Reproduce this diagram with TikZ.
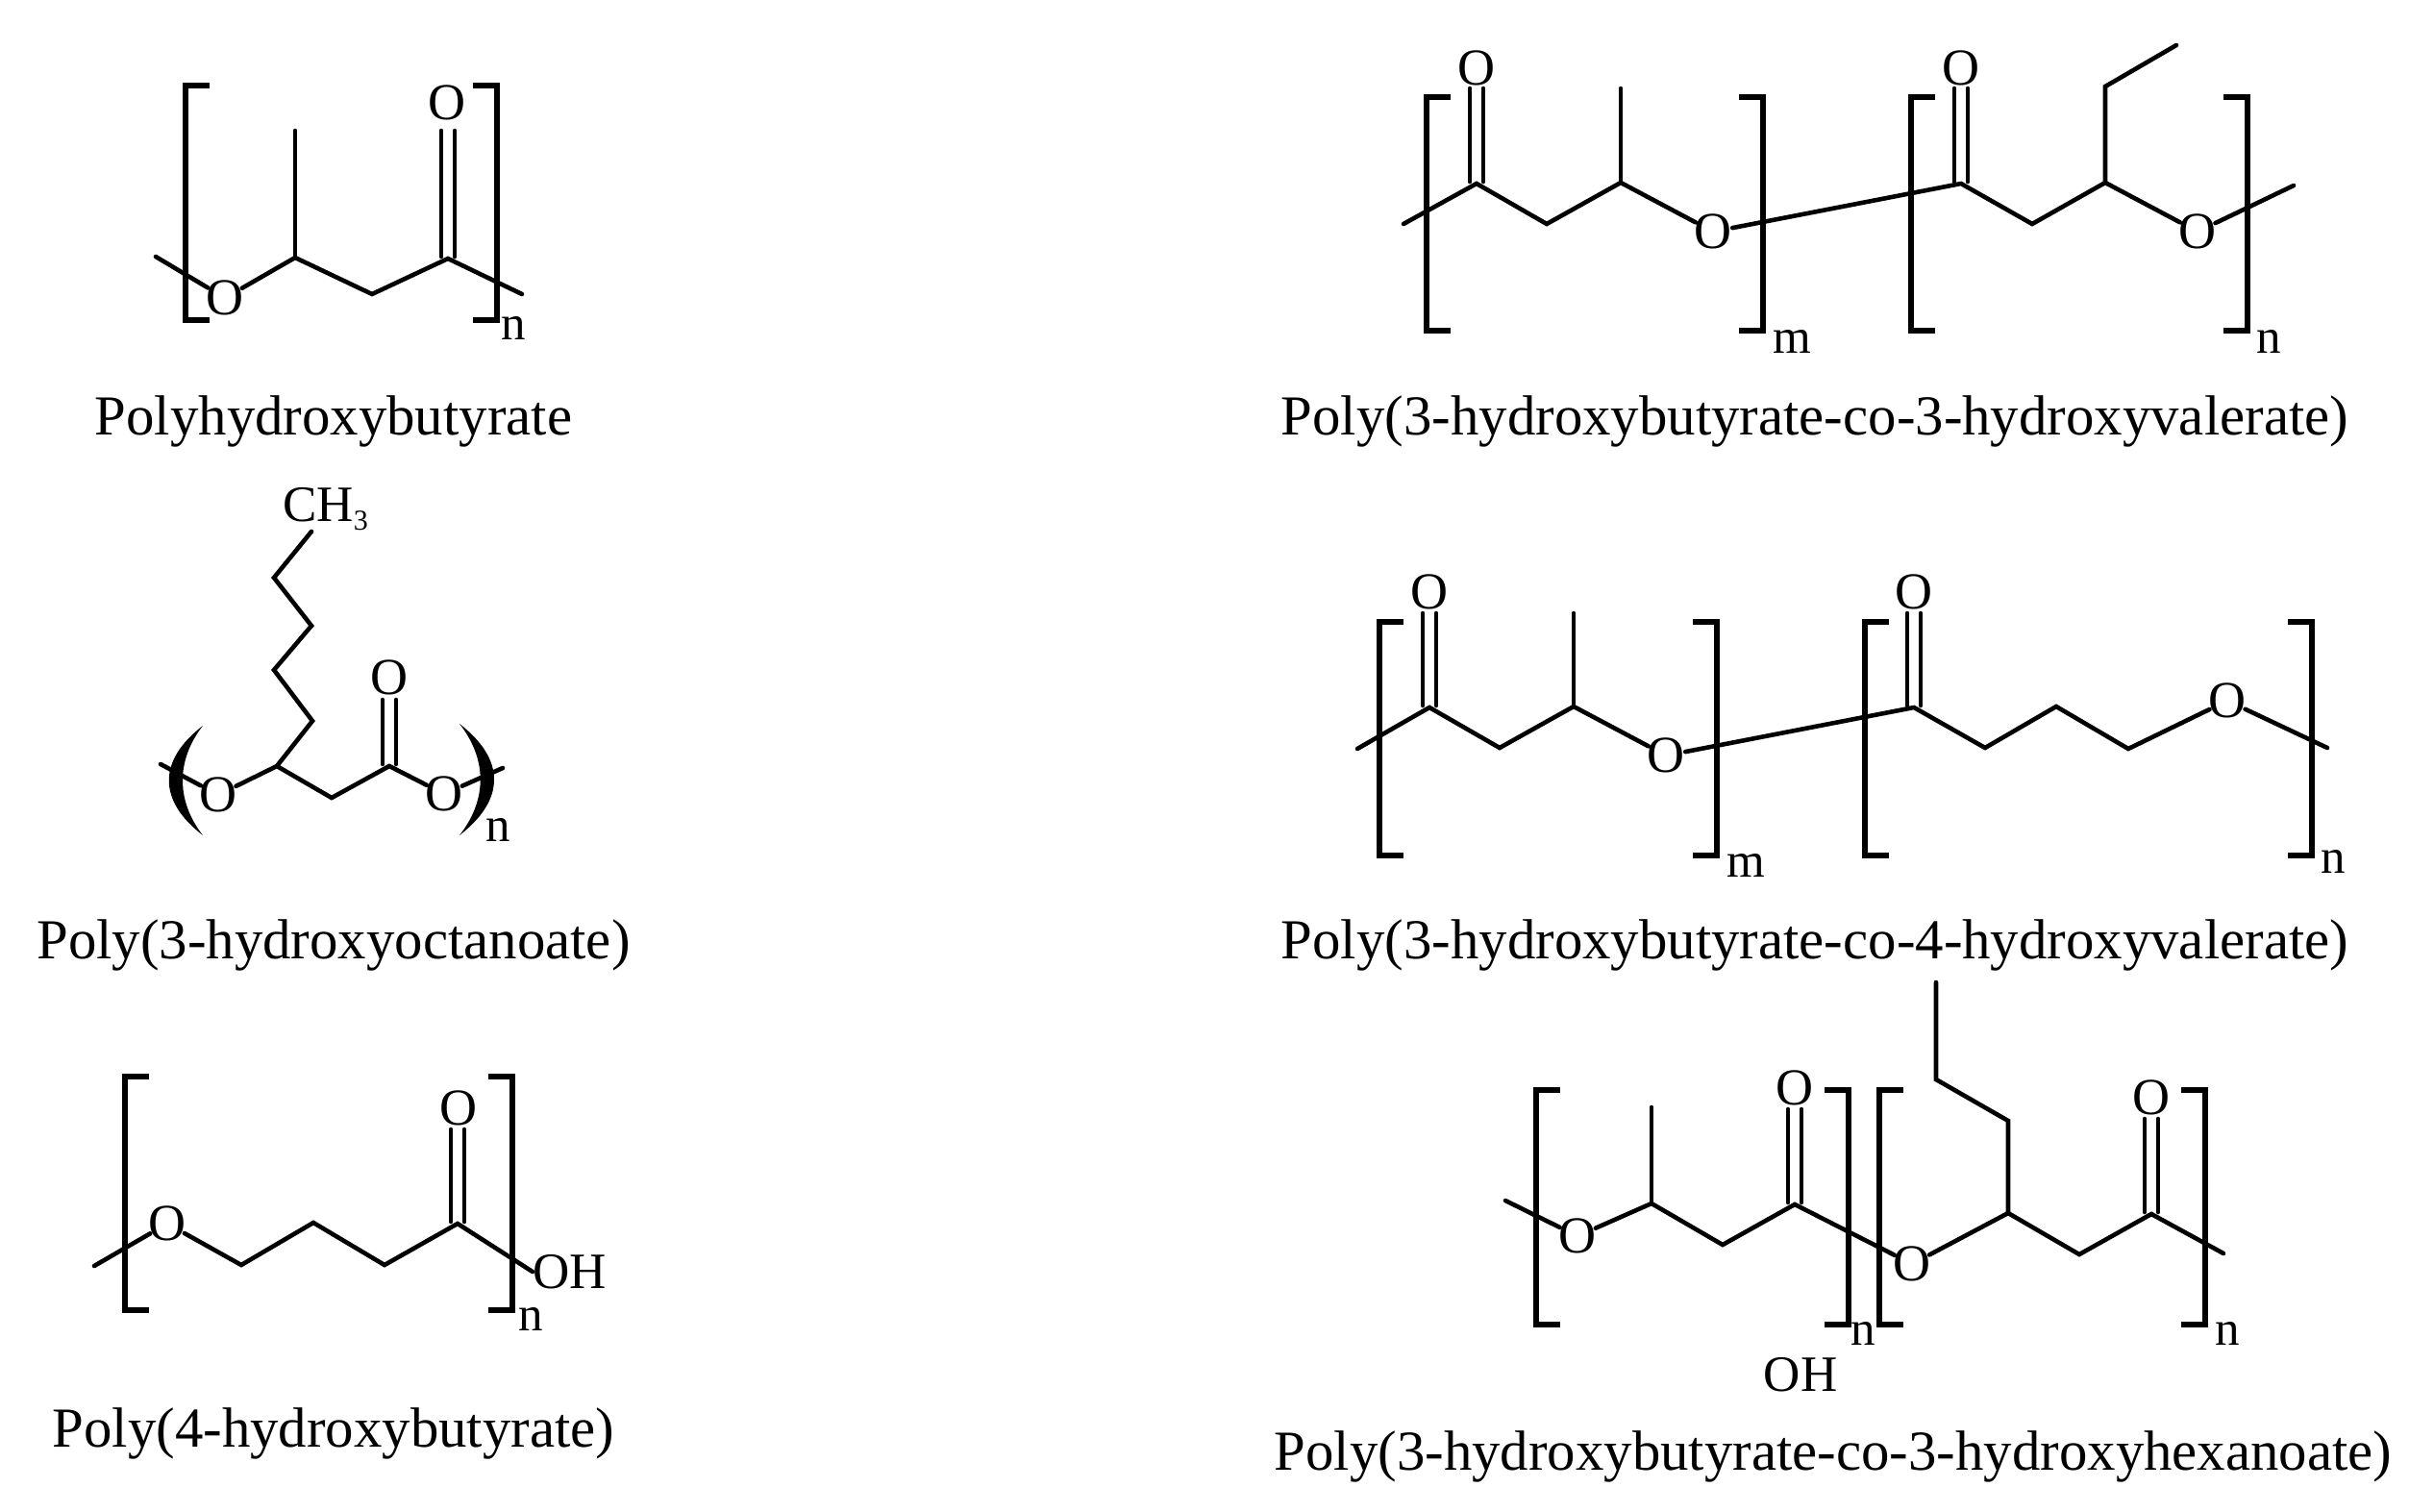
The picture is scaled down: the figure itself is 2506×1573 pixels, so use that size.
\documentclass[tikz,border=0pt]{standalone}
\usepackage{fontspec}
\setmainfont{Liberation Serif}
\tikzset{
  bond/.style={draw=black,line width=4.6pt,line cap=round,line join=miter},
  brk/.style={draw=black,line width=6.2pt,line join=miter,line cap=butt},
  atom/.style={circle,inner sep=-4.4pt,font=\fontsize{54}{60}\selectfont,text=black},
  plain/.style={inner sep=0pt,font=\fontsize{53}{60}\selectfont,text=black},
  idx/.style={inner sep=0pt,font=\fontsize{51}{60}\selectfont,text=black},
  caption/.style={inner sep=0pt,anchor=base,font=\fontsize{58.8}{70}\selectfont,text=black}
}
% double bond from carbon #1 up to coordinate #2
\newcommand{\dblbond}[3][7pt]{%
  \draw[bond] ([xshift=-#1,yshift=2pt]#2) -- ([xshift=-#1]#3);
  \draw[bond] ([xshift=#1,yshift=2pt]#2) -- ([xshift=#1]#3);}
% brackets: x, top y, bottom y
\newcommand{\lbrk}[3]{\draw[brk] (#1+25,#2) -- (#1,#2) -- (#1,#3) -- (#1+25,#3);}
\newcommand{\rbrk}[3]{\draw[brk] (#1-25,#2) -- (#1,#2) -- (#1,#3) -- (#1-25,#3);}
\begin{document}
\begin{tikzpicture}[x=1pt,y=-1pt]
\useasboundingbox (0,0) rectangle (2506,1573);
\fill[white] (0,0) rectangle (2506,1573);

%% ---- Polyhydroxybutyrate
\lbrk{193}{89}{333}\rbrk{517}{89}{333}
\node[atom] (aO1) at (234,310) {O};
\node[atom] (aO2) at (465,107) {O};
\node[idx] (an) at (534,341) {n};
\coordinate (a0) at (162,267);
\coordinate (a1) at (307,268);
\coordinate (a2) at (307,136);
\coordinate (a3) at (387,306);
\coordinate (a4) at (466,269);
\coordinate (a5) at (543,306);
\coordinate (ak) at (466,136);
\draw[bond] (a0) -- (aO1);
\draw[bond] (aO1) -- (a1) -- (a3) -- (a4) -- (a5);
\draw[bond] (a1) -- (a2);
\dblbond{a4}{ak}
\node[caption] (acap) at (347,452) {Polyhydroxybutyrate};

%% ---- Poly(3-hydroxyoctanoate)
\node[atom] (bO1) at (227,827) {O};
\node[atom] (bO2) at (405,705) {O};
\node[atom] (bO3) at (462,826) {O};
\node[idx] (bn) at (518,863) {n};
\node[plain,anchor=base west] (bch) at (294,542) {CH\raisebox{-9pt}{\fontsize{30}{32}\selectfont 3}};
\coordinate (b0) at (167,795);
\coordinate (b1) at (288,797);
\coordinate (b2) at (325,750);
\coordinate (b3) at (285,697);
\coordinate (b4) at (324,651);
\coordinate (b5) at (285,601);
\coordinate (b6) at (324,553);
\coordinate (b7) at (345,830);
\coordinate (b8) at (405,797);
\coordinate (b9) at (523,799);
\coordinate (bk) at (405,728);
\draw[bond] (b0) -- (bO1);
\draw[bond] (bO1) -- (b1) -- (b7) -- (b8) -- (bO3) -- (b9);
\draw[bond] (b1) -- (b2) -- (b3) -- (b4) -- (b5) -- (b6);
\dblbond{b8}{bk}
\fill[black] (211,755) .. controls (164,791) and (164,833) .. (211,869)
             .. controls (183,833) and (183,791) .. (211,755) -- cycle;
\fill[black] (478,753) .. controls (526,790) and (526,832) .. (478,869)
             .. controls (507,832) and (507,790) .. (478,753) -- cycle;
\node[caption] (bcap) at (347,997) {Poly(3-hydroxyoctanoate)};

%% ---- Poly(4-hydroxybutyrate)
\lbrk{130}{1120}{1363}\rbrk{533}{1120}{1363}
\node[atom] (cO1) at (174,1273) {O};
\node[atom] (cO2) at (477,1153) {O};
\node[idx] (cn) at (552,1372) {n};
\node[plain,anchor=west] (cOH) at (554,1323) {OH};
\coordinate (c0) at (98,1317);
\coordinate (c1) at (251,1316);
\coordinate (c2) at (326,1272);
\coordinate (c3) at (400,1316);
\coordinate (c4) at (476,1273);
\coordinate (ck) at (476,1175);
\draw[bond] (c0) -- (cO1);
\draw[bond] (cO1) -- (c1) -- (c2) -- (c3) -- (c4) -- (cOH.west);
\dblbond{c4}{ck}
\node[caption] (ccap) at (347,1505) {Poly(4-hydroxybutyrate)};

%% ---- Poly(3-hydroxybutyrate-co-3-hydroxyvalerate)
\lbrk{1484}{101}{344}\rbrk{1834}{101}{344}
\lbrk{1988}{101}{344}\rbrk{2338}{101}{344}
\node[atom] (dO1) at (1536,71) {O};
\node[atom] (dO2) at (1782,241) {O};
\node[atom] (dO3) at (2040,71) {O};
\node[atom] (dO4) at (2286,241) {O};
\node[idx] (dm) at (1864,355) {m};
\node[idx] (dn) at (2360,355) {n};
\coordinate (d0) at (1460,233);
\coordinate (d1) at (1536,191);
\coordinate (d2) at (1609,233);
\coordinate (d3) at (1686,190);
\coordinate (d4) at (1686,92);
\coordinate (d5) at (2040,191);
\coordinate (d6) at (2114,233);
\coordinate (d7) at (2190,190);
\coordinate (d8) at (2190,90);
\coordinate (d9) at (2264,47);
\coordinate (d10) at (2386,193);
\coordinate (dk1) at (1536,92);
\coordinate (dk2) at (2040,92);
\draw[bond] (d0) -- (d1) -- (d2) -- (d3) -- (dO2) -- (d5) -- (d6) -- (d7) -- (dO4) -- (d10);
\draw[bond] (d3) -- (d4);
\draw[bond] (d7) -- (d8) -- (d9);
\dblbond{d1}{dk1}
\dblbond{d5}{dk2}
\node[caption] (dcap) at (1888,452) {Poly(3-hydroxybutyrate-co-3-hydroxyvalerate)};

%% ---- Poly(3-hydroxybutyrate-co-4-hydroxyvalerate)
\lbrk{1435}{647}{890}\rbrk{1786}{647}{890}
\lbrk{1940}{647}{890}\rbrk{2405}{647}{890}
\node[atom] (eO1) at (1487,616) {O};
\node[atom] (eO2) at (1733,786) {O};
\node[atom] (eO3) at (1991,616) {O};
\node[atom] (eO4) at (2317,729) {O};
\node[idx] (em) at (1816,900) {m};
\node[idx] (en) at (2427,896) {n};
\coordinate (e0) at (1412,779);
\coordinate (e1) at (1487,736);
\coordinate (e2) at (1560,778);
\coordinate (e3) at (1637,735);
\coordinate (e4) at (1637,638);
\coordinate (e5) at (1991,736);
\coordinate (e6) at (2065,778);
\coordinate (e7) at (2139,735);
\coordinate (e8) at (2214,779);
\coordinate (e9) at (2421,778);
\coordinate (ek1) at (1487,638);
\coordinate (ek2) at (1991,638);
\draw[bond] (e0) -- (e1) -- (e2) -- (e3) -- (eO2) -- (e5) -- (e6) -- (e7) -- (e8) -- (eO4) -- (e9);
\draw[bond] (e3) -- (e4);
\dblbond{e1}{ek1}
\dblbond{e5}{ek2}
\node[caption] (ecap) at (1888,997) {Poly(3-hydroxybutyrate-co-4-hydroxyvalerate)};

%% ---- Poly(3-hydroxybutyrate-co-3-hydroxyhexanoate)
\lbrk{1598}{1134}{1378}\rbrk{1923}{1134}{1378}
\lbrk{1955}{1134}{1378}\rbrk{2294}{1134}{1378}
\node[atom] (fO1) at (1641,1286) {O};
\node[atom] (fO2) at (1867,1132) {O};
\node[atom] (fO3) at (1989,1315) {O};
\node[atom] (fO4) at (2238,1142) {O};
\node[idx] (fn1) at (1938,1387) {n};
\node[idx] (fn2) at (2317,1387) {n};
\node[plain] (fOH) at (1873,1430) {OH};
\coordinate (f0) at (1566,1249);
\coordinate (f1) at (1718,1252);
\coordinate (f2) at (1718,1152);
\coordinate (f3) at (1792,1295);
\coordinate (f4) at (1867,1253);
\coordinate (f5) at (2089,1262);
\coordinate (f6) at (2089,1166);
\coordinate (f7) at (2014,1123);
\coordinate (f8) at (2014,1022);
\coordinate (f9) at (2163,1305);
\coordinate (f10) at (2238,1263);
\coordinate (f11) at (2313,1304);
\coordinate (fk1) at (1867,1154);
\coordinate (fk2) at (2238,1164);
\draw[bond] (f0) -- (fO1);
\draw[bond] (fO1) -- (f1) -- (f3) -- (f4) -- (fO3) -- (f5) -- (f9) -- (f10) -- (f11);
\draw[bond] (f1) -- (f2);
\draw[bond] (f5) -- (f6) -- (f7) -- (f8);
\dblbond{f4}{fk1}
\dblbond{f10}{fk2}
\node[caption] (fcap) at (1907,1529) {Poly(3-hydroxybutyrate-co-3-hydroxyhexanoate)};
\end{tikzpicture}
\end{document}
